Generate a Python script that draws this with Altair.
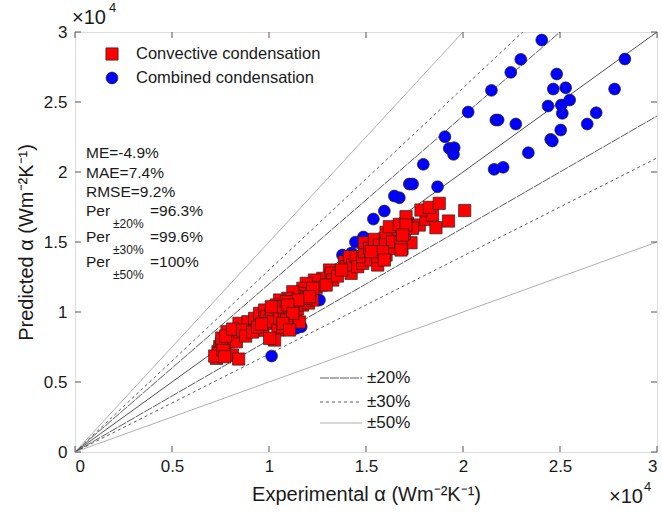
import altair as alt
import pandas as pd

# ---------------- data (W m^-2 K^-1) ----------------
conv_x = [7289, 7371, 7459, 7546, 7716, 7886, 7937, 7834, 8318, 8112, 8436, 7407, 7202, 7629, 7716,
          8452, 8488, 9002, 8915, 9259, 9516, 9774, 9861, 9347, 9686, 9943, 10118, 10201, 10375, 10458, 10288, 10031,
          7562, 7767, 8128, 8642, 8796, 9156, 9414, 9619, 10545, 10802, 11060, 11368, 11574, 11162, 10905, 10700, 11471, 11728, 12037, 12243,
          13117, 13205, 12773, 12690, 12346, 12433, 12088, 11919, 11744, 11574, 11404, 11919, 11229, 10972, 10802, 10545, 10375, 11229, 10715, 10118,
          13205, 13287, 12947, 12258, 12088, 11487, 10890, 10972, 11229, 10715, 11060,
          13889, 13976, 14234, 14146, 14316, 14491, 14573, 14830, 14830, 14918, 14918, 15175, 15345, 15262, 15602, 15602, 15432, 15432, 15689, 15998,
          16034, 16373, 16461, 16857, 17320, 16975, 16631, 16034, 16204, 16718, 17145, 17063, 17747, 18091, 18606, 18431, 17834, 18261, 18776, 19254, 20088,
          17402, 17063, 16373, 16806, 16888, 15859, 16806, 15946, 15262, 13529, 13735]
conv_y = [6690, 7162, 7519, 7762, 7762, 7876, 8476, 8590, 7876, 6926, 6640, 7047, 6854, 7283, 6804,
          9190, 8590, 8712, 9305, 9547, 9904, 10140, 9662, 8712, 8712, 9190, 9904, 9305, 10376, 8712, 7997, 8119,
          8140, 8283, 8783, 8712, 8283, 8569, 8926, 9140, 9569, 9926, 9569, 9712, 9283, 10140, 9426, 8926, 10212, 10497, 10640, 10855,
          12997, 12640, 12404, 11926, 12283, 11762, 11569, 12047, 11690, 11333, 11090, 10976, 11447, 10976, 10733, 10855, 10497, 10619, 10376, 10376,
          12762, 12283, 11926, 11690, 11090, 10855, 10733, 10497, 9904, 9190, 8712,
          13590, 13233, 12762, 13948, 13355, 13948, 13233, 13476, 13948, 14305, 14947, 14547, 14069, 13712, 13355, 13948, 14547, 15190, 14783, 15140,
          14069, 14547, 15019, 14547, 14947, 15619, 15855, 15690, 16090, 16262, 16333, 16805, 16212, 16619, 16019, 16926, 17283, 17476, 17762, 16497, 17247,
          15976, 16212, 15019, 15019, 15497, 14305, 14426, 13712, 14305, 12569, 12997]

comb_x = [24059, 22978, 22464, 21466, 20267, 19069, 19290, 19547, 19511, 17953, 17232, 17402, 16718, 18688,
          21692, 21811, 22721, 21605, 22068, 23369, 24521, 24604, 24383, 25036, 25118, 25067, 24655, 25293, 24830,
          25499, 26404, 26867, 27814, 28343, 16461, 15946, 15381, 14866, 14455, 13786, 14249, 12603, 11661, 11404, 10134]
comb_y = [29426, 28048, 27119, 25833, 24283, 22519, 21690, 21733, 21262, 20548, 19140, 19140, 18162, 18948,
          23712, 23712, 23426, 20190, 20333, 21376, 22333, 22212, 24712, 22998, 24190, 24783, 25926, 26019, 26998,
          25141, 23426, 24233, 25926, 28069, 18283, 17212, 16640, 15355, 14997, 14069, 14212, 10855, 8947, 8833, 6854]

ratios = [1.0, 1.2, 0.8, 1.3, 0.7, 1.5, 0.5]
ratio_group = ["0", "20", "20", "30", "30", "50", "50"]
ticks = [0, 5000, 10000, 15000, 20000, 25000, 30000]
stats = ["ME=-4.9%", "MAE=7.4%", "RMSE=9.2%"]
per_subs = ["±20%", "±30%", "±50%"]
per_vals = ["=96.3%", "=99.6%", "=100%"]
band_labels = ["±20%", "±30%", "±50%"]

FONT = "Liberation Sans"
TXT = "#1a1a1a"
W, H = 582, 420

conv = pd.DataFrame({"x": conv_x, "y": conv_y})
comb = pd.DataFrame({"x": comb_x, "y": comb_y})
line_rows = []
for k, g in zip(ratios, ratio_group):
    line_rows.append({"k": k, "g": g, "x": 0, "y": 0})
    line_rows.append({"k": k, "g": g, "x": 30000, "y": 30000 * k})
lines = pd.DataFrame(line_rows)

xs = alt.Scale(domain=[0, 30000], nice=False, zero=False)
ys = alt.Scale(domain=[0, 30000], nice=False, zero=False)
xaxis = alt.Axis(values=ticks, labelExpr="'' + datum.value/10000", tickSize=0, domain=False, grid=False,
                 labelFontSize=17, labelFont=FONT, labelColor=TXT, labelPadding=6,
                 titleFontSize=20, titleFont=FONT, titleColor=TXT, titleFontWeight="normal", titlePadding=10)
yaxis = alt.Axis(values=ticks, labelExpr="'' + datum.value/10000", tickSize=0, domain=False, grid=False,
                 labelFontSize=17, labelFont=FONT, labelColor=TXT, labelPadding=8,
                 titleFontSize=20, titleFont=FONT, titleColor=TXT, titleFontWeight="normal", titlePadding=7)
X = alt.X("x:Q", scale=xs, axis=xaxis, title="Experimental α (Wm⁻²K⁻¹)")
Y = alt.Y("y:Q", scale=ys, axis=yaxis, title="Predicted α (Wm⁻²K⁻¹)")

layers = []
styles = {
    "0": dict(color="#222222", strokeWidth=0.8),
    "20": dict(color="#333333", strokeWidth=0.8, strokeDash=[9, 1]),
    "30": dict(color="#333333", strokeWidth=0.8, strokeDash=[3, 3]),
    "50": dict(color="#9a9a9a", strokeWidth=0.8),
}
for g, st in styles.items():
    layers.append(alt.Chart(lines).transform_filter(alt.datum.g == g)
                  .mark_line(clip=True, **st).encode(x=X, y=Y, detail="k:N"))

layers.append(alt.Chart(comb).mark_circle(size=140, color="#0000ff", opacity=1, stroke="#222222", strokeWidth=0.7, clip=True)
              .encode(x=X, y=Y))
layers.append(alt.Chart(conv).mark_square(size=150, color="#ff0000", opacity=1, stroke="#222222", strokeWidth=0.7, clip=True)
              .encode(x=X, y=Y))

# inner ticks (box axes)
tkx = pd.DataFrame({"x": ticks})
tky = pd.DataFrame({"y": ticks})
layers.append(alt.Chart(tkx).mark_rule(color="#555555", strokeWidth=1).encode(
    x=X, y=alt.value(H), y2=alt.value(H - 6)))
layers.append(alt.Chart(tkx).mark_rule(color="#555555", strokeWidth=1).encode(
    x=X, y=alt.value(0), y2=alt.value(6)))
layers.append(alt.Chart(tky).mark_rule(color="#555555", strokeWidth=1).encode(
    y=Y, x=alt.value(0), x2=alt.value(6)))
layers.append(alt.Chart(tky).mark_rule(color="#555555", strokeWidth=1).encode(
    y=Y, x=alt.value(W), x2=alt.value(W - 6)))

one = alt.Data(values=[{}])


def txt(s, x, y, size, align="left", baseline="middle"):
    return alt.Chart(one).mark_text(text=s, font=FONT, fontSize=size, color=TXT, align=align,
                                    baseline=baseline).encode(x=alt.value(x), y=alt.value(y))


# top legend
layers.append(alt.Chart(one).mark_square(size=150, color="#ff0000", opacity=1, stroke="#222222", strokeWidth=0.7)
              .encode(x=alt.value(37), y=alt.value(22)))
layers.append(alt.Chart(one).mark_circle(size=140, color="#0000ff", opacity=1, stroke="#222222", strokeWidth=0.7)
              .encode(x=alt.value(37), y=alt.value(46)))
layers.append(txt("Convective condensation", 61, 22, 16.5))
layers.append(txt("Combined condensation", 61, 46, 16.5))

# statistics
for i, s in enumerate(stats):
    layers.append(txt(s, 11, [121, 141, 160][i], 15.5))
for i in range(3):
    yy = [179, 205, 230][i]
    layers.append(txt("Per", 11, yy, 15.5))
    layers.append(txt(per_subs[i], 38, yy + 13, 12))
    layers.append(txt(per_vals[i], 75, yy, 15.5))

# band legend
for i, lab in enumerate(band_labels):
    yy = [346, 370, 391][i]
    st = styles[["20", "30", "50"][i]]
    layers.append(alt.Chart(one).mark_rule(**st).encode(x=alt.value(245), x2=alt.value(287), y=alt.value(yy)))
    layers.append(txt(lab, 292, yy, 17))

# exponent labels
layers.append(txt("×10", -3, -14, 20))
layers.append(txt("4", 34, -24, 13))
layers.append(txt("×10", 568, 465, 20, align="right"))
layers.append(txt("4", 569, 455, 13))

chart = alt.layer(*layers).properties(
    width=W, height=H,
    autosize=alt.AutoSizeParams(type="none"),
    padding={"left": 75, "top": 32, "right": 5, "bottom": 65},
).configure_view(stroke="#555555", strokeWidth=1).configure(background="white")

chart.save("out.html", embed_options={"renderer": "svg", "actions": False})
